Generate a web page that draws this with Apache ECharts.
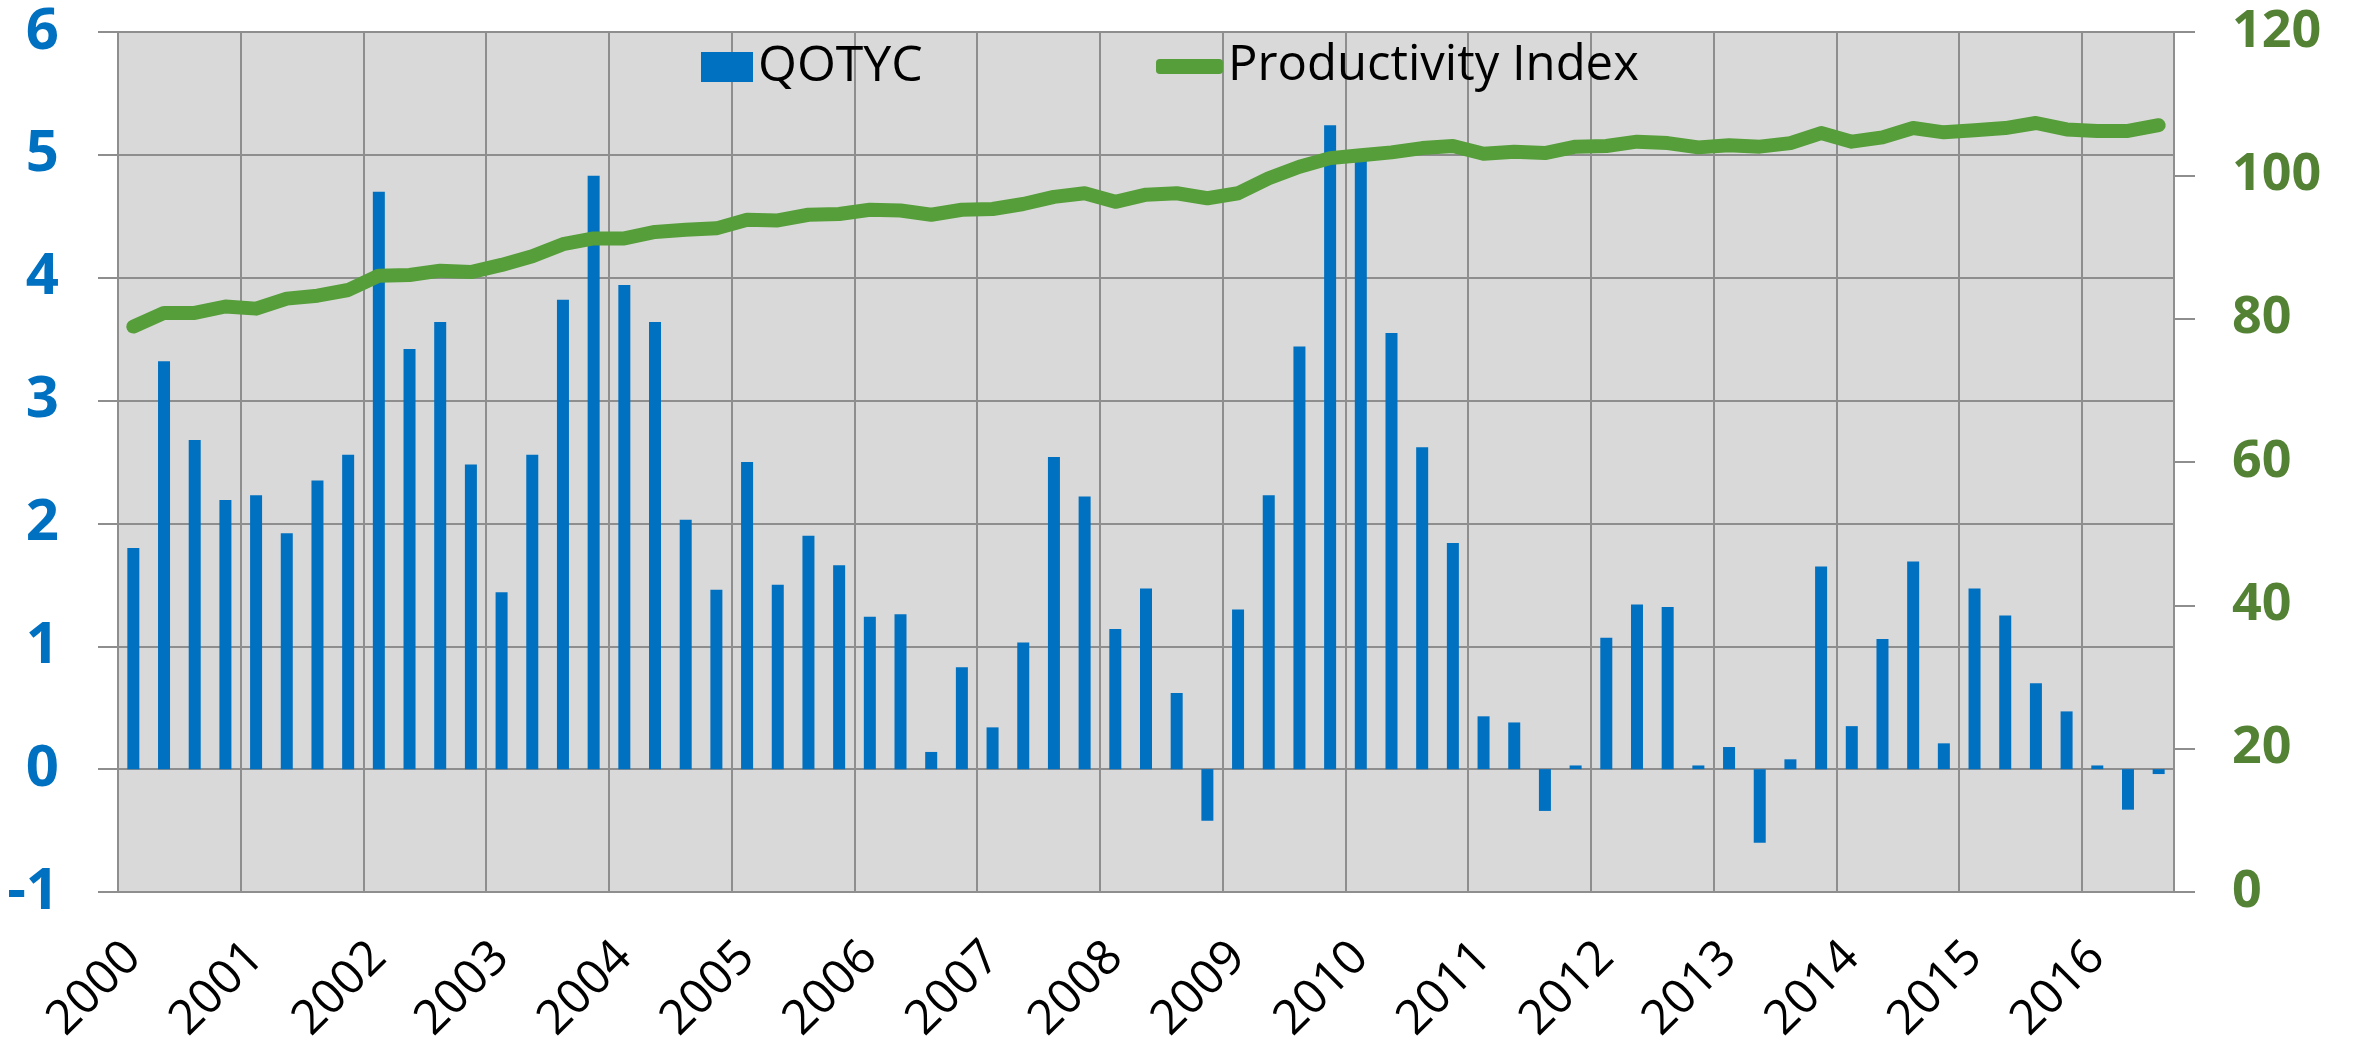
<!DOCTYPE html>
<html>
<head>
<meta charset="utf-8">
<script src="https://cdn.jsdelivr.net/npm/echarts@6/dist/echarts.min.js"></script>
<style>
  html, body { margin: 0; padding: 0; background: #fff; }
  #chart { width: 2358px; height: 1049px; }
</style>
</head>
<body>
<div id="chart"></div>
<script>
const years = ['2000', '2001', '2002', '2003', '2004', '2005', '2006', '2007', '2008',
  '2009', '2010', '2011', '2012', '2013', '2014', '2015', '2016']

// quarters 2000 Q1 .. 2016 Q3
const quarters = []
years.forEach(y => {
  ['Q1', 'Q2', 'Q3', 'Q4'].forEach(q => {
    if (!(y === '2016' && q === 'Q4')) quarters.push(y + ' ' + q)
  })
})

const qotyc = [
  1.80, 3.32, 2.68, 2.19,
  2.23, 1.92, 2.35, 2.56,
  4.70, 3.42, 3.64, 2.48,
  1.44, 2.56, 3.82, 4.83,
  3.94, 3.64, 2.03, 1.46,
  2.50, 1.50, 1.90, 1.66,
  1.24, 1.26, 0.14, 0.83,
  0.34, 1.03, 2.54, 2.22,
  1.14, 1.47, 0.62, -0.42,
  1.30, 2.23, 3.44, 5.24,
  5.00, 3.55, 2.62, 1.84,
  0.43, 0.38, -0.34, 0.03,
  1.07, 1.34, 1.32, 0.03,
  0.18, -0.60, 0.08, 1.65,
  0.35, 1.06, 1.69, 0.21,
  1.47, 1.25, 0.70, 0.47,
  0.03, -0.33, -0.04
]

const productivity = [
  78.9, 80.8, 80.8, 81.7,
  81.4, 82.8, 83.2, 84.0,
  86.0, 86.1, 86.7, 86.5,
  87.5, 88.7, 90.4, 91.2,
  91.2, 92.1, 92.4, 92.6,
  93.8, 93.7, 94.5, 94.6,
  95.2, 95.1, 94.5, 95.2,
  95.3, 96.0, 97.0, 97.5,
  96.3, 97.3, 97.5, 96.8,
  97.5, 99.6, 101.2, 102.4,
  102.8, 103.2, 103.8, 104.1,
  103.0, 103.3, 103.1, 104.0,
  104.1, 104.7, 104.5, 103.9,
  104.2, 104.0, 104.5, 105.9,
  104.7, 105.3, 106.6, 106.0,
  106.3, 106.6, 107.3, 106.4,
  106.2, 106.2, 107.0
]

const gridGray = '#8e8e8e'
const font = 'Open Sans'

const chart = echarts.init(document.getElementById('chart'), null, { renderer: 'canvas' })

chart.setOption({
  animation: false,
  textStyle: { fontFamily: font },
  grid: {
    left: 118, right: 184, top: 32, bottom: 157,
    show: true, backgroundColor: '#d9d9d9', borderWidth: 0
  },
  legend: [
    {
      data: ['QOTYC'],
      left: 696, top: 37,
      itemWidth: 52, itemHeight: 30,
      icon: 'rect',
      textStyle: { fontSize: 50, color: '#000', fontFamily: font }
    },
    {
      data: ['Productivity Index'],
      left: 1151, top: 37,
      itemWidth: 67, itemHeight: 15,
      icon: 'roundRect',
      textStyle: { fontSize: 49, color: '#000', fontFamily: font }
    }
  ],
  xAxis: [
    {
      type: 'category',
      data: quarters,
      boundaryGap: true,
      axisLine: { show: false, onZero: false },
      axisTick: { show: false },
      axisLabel: {
        interval: 3,
        rotate: 45,
        margin: 58,
        fontSize: 48,
        color: '#000',
        formatter: v => v.slice(0, 4)
      },
      splitLine: { show: true, interval: 3, lineStyle: { color: gridGray, width: 2 } }
    },
    {
      type: 'category',
      data: quarters,
      position: 'top',
      boundaryGap: true,
      axisLine: { show: false, onZero: true, onZeroAxisIndex: 0 },
      axisTick: { show: true, inside: true, length: 19, interval: 3, lineStyle: { color: gridGray, width: 2 } },
      axisLabel: { show: false },
      splitLine: { show: false }
    }
  ],
  yAxis: [
    {
      type: 'value',
      min: -1, max: 6, interval: 1,
      axisLine: { show: true, lineStyle: { color: gridGray, width: 2 } },
      axisTick: { show: true, length: 20, lineStyle: { color: gridGray, width: 2 } },
      axisLabel: { fontSize: 58, fontWeight: 'bold', color: '#0070c0', margin: 59 },
      splitLine: { show: true, lineStyle: { color: gridGray, width: 2 } }
    },
    {
      type: 'value',
      position: 'right',
      min: 0, max: 120, interval: 20,
      axisLine: { show: true, lineStyle: { color: gridGray, width: 2 } },
      axisTick: { show: true, length: 21, lineStyle: { color: gridGray, width: 2 } },
      axisLabel: { fontSize: 52, fontWeight: 'bold', color: '#548235', margin: 58 },
      splitLine: { show: false }
    }
  ],
  series: [
    {
      name: 'QOTYC',
      type: 'bar',
      data: qotyc,
      barWidth: 12,
      itemStyle: { color: '#0070c0' },
      z: 2
    },
    {
      name: 'Productivity Index',
      type: 'line',
      yAxisIndex: 1,
      data: productivity,
      symbol: 'none',
      lineStyle: { width: 14, color: '#559e3a', cap: 'round', join: 'round' },
      itemStyle: { color: '#559e3a' },
      z: 3
    }
  ]
})
</script>
</body>
</html>
